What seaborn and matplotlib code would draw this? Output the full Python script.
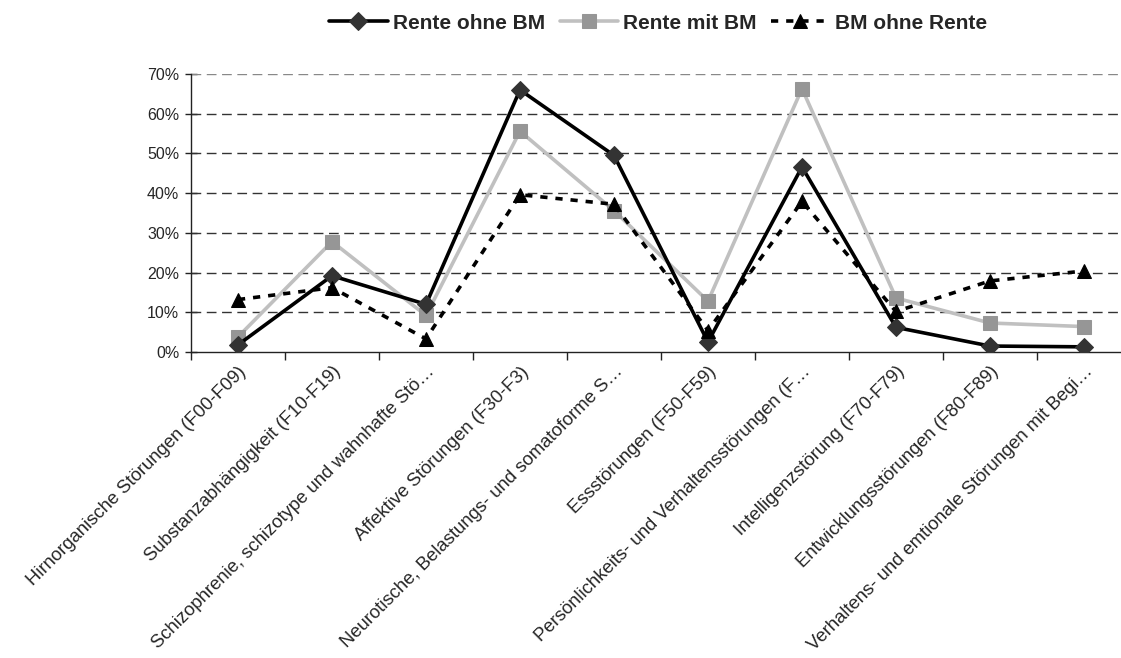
import numpy as np
import pandas as pd
import seaborn as sns
import matplotlib.pyplot as plt
from matplotlib.ticker import PercentFormatter, FixedLocator
from matplotlib.transforms import ScaledTranslation

# data (percent)
categories = [
    "Hirnorganische Störungen (F00-F09)",
    "Substanzabhängigkeit (F10-F19)",
    "Schizophrenie, schizotype und wahnhafte Stö…",
    "Affektive Störungen (F30-F3)",
    "Neurotische, Belastungs- und somatoforme S…",
    "Essstörungen (F50-F59)",
    "Persönlichkeits- und Verhaltensstörungen (F…",
    "Intelligenzstörung (F70-F79)",
    "Entwicklungsstörungen (F80-F89)",
    "Verhaltens- und emtionale Störungen mit Begi…",
]
rente_ohne_bm = [1.8, 19.2, 12.0, 66.0, 49.5, 2.5, 46.6, 6.2, 1.5, 1.3]
rente_mit_bm = [3.8, 27.8, 9.2, 55.6, 35.6, 12.8, 66.3, 13.6, 7.3, 6.4]
bm_ohne_rente = [13.2, 16.2, 3.3, 39.6, 37.2, 5.4, 37.9, 10.2, 17.9, 20.4]

sns.set_theme(style="white")
plt.rcParams["font.family"] = ["Liberation Sans", "DejaVu Sans"]

fig = plt.figure(figsize=(11.21, 6.58), dpi=100)
ax = fig.add_axes([191 / 1121, 1 - 352 / 658, 940 / 1121, (352 - 74) / 658])

x = np.arange(len(categories))
df = pd.DataFrame({"x": x, "ohne": rente_ohne_bm, "mit": rente_mit_bm, "bm": bm_ohne_rente})

sns.lineplot(data=df, x="x", y="ohne", ax=ax, color="black", lw=2.6,
             marker="D", markersize=9, markerfacecolor="#333333",
             markeredgecolor="#333333", label="Rente ohne BM", zorder=4)
sns.lineplot(data=df, x="x", y="mit", ax=ax, color="#c0c0c0", lw=2.6,
             marker="s", markersize=9.5, markerfacecolor="#969696",
             markeredgecolor="#969696", label="Rente mit BM", zorder=3)
sns.lineplot(data=df, x="x", y="bm", ax=ax, color="black", lw=2.6,
             marker="^", markersize=10.5, markerfacecolor="black",
             markeredgecolor="black", dashes=(2, 2.2), label="BM ohne Rente",
             zorder=5)

ax.set_xlim(-0.5, len(categories) - 0.5)
ax.set_ylim(0, 70)
ax.yaxis.set_major_locator(FixedLocator(np.arange(0, 71, 10)))
ax.yaxis.set_major_formatter(PercentFormatter(decimals=0))
ax.set_xlabel("")
ax.set_ylabel("")

# category labels centred, tick marks on category borders
ax.set_xticks(x)
ax.set_xticklabels(categories, rotation=45, ha="right", rotation_mode="anchor",
                   fontsize=13.3)
shift = ScaledTranslation(-9 / 100, 0, fig.dpi_scale_trans)
for lbl in ax.get_xticklabels():
    lbl.set_transform(lbl.get_transform() + shift)
ax.set_xticks(np.arange(-0.5, len(categories)), minor=True)
ax.tick_params(axis="x", which="major", length=0, pad=8)
ax.tick_params(axis="x", which="minor", length=6, width=1, color="#222222",
               direction="out", bottom=True)
ax.tick_params(axis="y", length=9, width=1, color="#222222", direction="inout",
               left=True, labelsize=11.5, pad=4)

for y in range(10, 71, 10):
    ax.axhline(y, color="#333333" if y < 70 else "#888888", lw=1,
               dashes=(7, 4), zorder=1)

for side in ["top", "right"]:
    ax.spines[side].set_visible(False)
for side in ["left", "bottom"]:
    ax.spines[side].set_color("#222222")
    ax.spines[side].set_linewidth(1)

ax.get_legend().remove()
handles, labels = ax.get_legend_handles_labels()
fig.legend(handles, labels, loc="center", bbox_to_anchor=(0.587, 0.965), ncol=3,
           frameon=False, prop={"weight": "bold", "size": 15},
           handlelength=2.8, handletextpad=0.25, columnspacing=0.7)

fig.savefig("out.png", dpi=100)
